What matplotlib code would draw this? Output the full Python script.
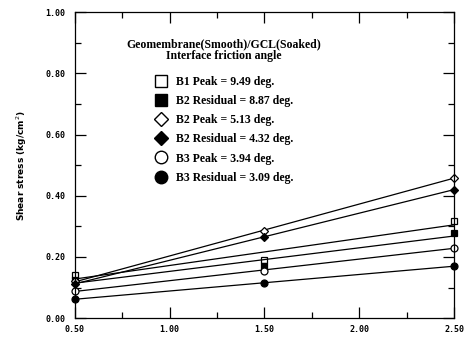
import numpy as np
import matplotlib.pyplot as plt
from matplotlib.ticker import MultipleLocator, FormatStrFormatter

# normal stress (x) and shear stress values
normal_stress = [0.5, 1.5, 2.5]
b1_peak = [0.141, 0.190, 0.318]
b2_residual_sq = [0.125, 0.170, 0.279]
b2_peak = [0.120, 0.285, 0.459]
b2_residual = [0.112, 0.266, 0.420]
b3_peak = [0.089, 0.154, 0.230]
b3_residual = [0.062, 0.115, 0.170]

labels = ["B1 Peak = 9.49 deg.", "B2 Residual = 8.87 deg.", "B2 Peak = 5.13 deg.",
          "B2 Residual = 4.32 deg.", "B3 Peak = 3.94 deg.", "B3 Residual = 3.09 deg."]
title_text = "Geomembrane(Smooth)/GCL(Soaked)\nInterface friction angle"

series = [b1_peak, b2_residual_sq, b2_peak, b2_residual, b3_peak, b3_residual]
styles = [("s", "white"), ("s", "black"), ("D", "white"),
          ("D", "black"), ("o", "white"), ("o", "black")]

fig = plt.figure(figsize=(4.71, 3.37), dpi=100)
ax = fig.add_axes([0.159, 0.056, 0.805, 0.908])

x = np.array(normal_stress)
xs = np.array([0.5, 2.5])
handles = []
for ys, (m, fc) in zip(series, styles):
    # straight-line fit through each series
    k, b = np.polyfit(x, ys, 1)
    ax.plot(xs, k * xs + b, color="black", lw=0.9)
    ms = 5 if m != "D" else 4
    ax.plot(x, ys, ls="none", marker=m, mfc=fc, mec="black", mew=0.9, ms=ms, clip_on=False)
    h, = ax.plot([], [], ls="none", marker=m, mfc=fc, mec="black", mew=1.0,
                 ms=9 if m != "D" else 7.5)
    handles.append(h)

leg = ax.legend(handles, labels, title=title_text, frameon=False,
                loc="upper left", bbox_to_anchor=(0.12, 0.935),
                prop={"family": "Liberation Serif", "weight": "bold", "size": 8.5},
                labelspacing=0.61, handletextpad=0.6, handlelength=1.2, borderpad=0)
leg.get_title().set_fontfamily("Liberation Serif")
leg.get_title().set_fontweight("bold")
leg.get_title().set_fontsize(8.5)
leg.get_title().set_multialignment("center")
leg.get_title().set_linespacing(1.0)
leg._legend_box.sep = 10

ax.set_xlim(0.5, 2.5)
ax.set_ylim(0.0, 1.0)
ax.xaxis.set_major_locator(MultipleLocator(0.5))
ax.xaxis.set_minor_locator(MultipleLocator(0.25))
ax.yaxis.set_major_locator(MultipleLocator(0.2))
ax.yaxis.set_minor_locator(MultipleLocator(0.1))
ax.xaxis.set_major_formatter(FormatStrFormatter("%.2f"))
ax.yaxis.set_major_formatter(FormatStrFormatter("%.2f"))
ax.tick_params(which="both", direction="in", top=True, right=True, width=0.9)
ax.tick_params(which="major", length=8)
ax.tick_params(which="minor", length=4)
ax.tick_params(axis="x", pad=5)
ax.tick_params(axis="y", pad=7)
for lab in ax.get_xticklabels() + ax.get_yticklabels():
    lab.set_fontfamily("DejaVu Sans Mono")
    lab.set_fontweight("bold")
    lab.set_fontsize(6)
for s in ax.spines.values():
    s.set_linewidth(0.9)

ax.set_ylabel("Shear stress (kg/cm$^2$)", fontfamily="DejaVu Sans", fontweight="bold",
              fontsize=6.5, labelpad=12)

fig.savefig("out.png", dpi=100)
